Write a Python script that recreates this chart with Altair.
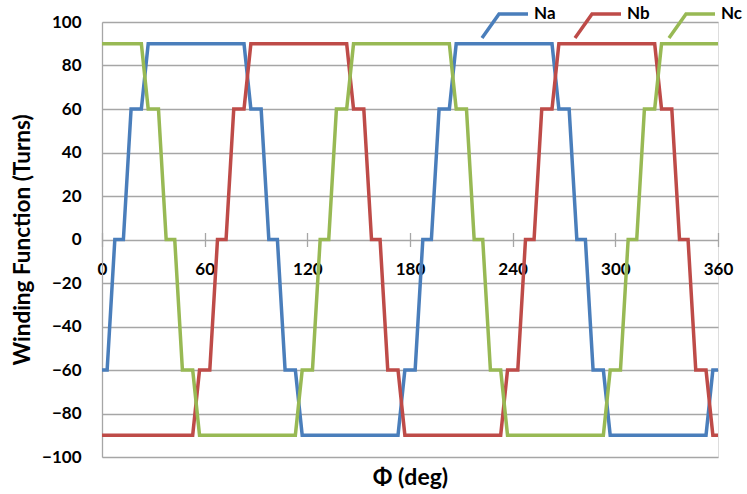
import altair as alt
import pandas as pd

# Angle breakpoints (deg) and winding function values (turns)
phi_a = [0, 3, 7.5, 12.5, 17, 23, 27, 83, 87, 93, 97.5, 102.5, 107, 113, 117, 173, 177,
         183, 187.5, 192.5, 197, 203, 207, 263, 267, 273, 277.5, 282.5, 287, 293, 297, 353, 357, 360]
na = [-60, -60, 0, 0, 60, 60, 90, 90, 60, 60, 0, 0, -60, -60, -90, -90, -60,
      -60, 0, 0, 60, 60, 90, 90, 60, 60, 0, 0, -60, -60, -90, -90, -60, -60]

phi_b = [0, 53, 57, 63, 67.5, 72.5, 77, 83, 87, 143, 147, 153, 157.5, 162.5, 167, 173, 177,
         233, 237, 243, 247.5, 252.5, 257, 263, 267, 323, 327, 333, 337.5, 342.5, 347, 353, 357, 360]
nb = [-90, -90, -60, -60, 0, 0, 60, 60, 90, 90, 60, 60, 0, 0, -60, -60, -90,
      -90, -60, -60, 0, 0, 60, 60, 90, 90, 60, 60, 0, 0, -60, -60, -90, -90]

phi_c = [0, 23, 27, 33, 37.5, 42.5, 47, 53, 57, 113, 117, 123, 127.5, 132.5, 137, 143, 147,
         203, 207, 213, 217.5, 222.5, 227, 233, 237, 293, 297, 303, 307.5, 312.5, 317, 323, 327, 360]
nc = [90, 90, 60, 60, 0, 0, -60, -60, -90, -90, -60, -60, 0, 0, 60, 60, 90,
      90, 60, 60, 0, 0, -60, -60, -90, -90, -60, -60, 0, 0, 60, 60, 90, 90]

series_names = ["Na", "Nb", "Nc"]
series_colors = ["#4A7EBB", "#BE4B48", "#98B954"]
x_ticks = [0, 60, 120, 180, 240, 300, 360]
y_ticks = [-100, -80, -60, -40, -20, 0, 20, 40, 60, 80, 100]

rows = []
for name, xs, ys in zip(series_names, [phi_a, phi_b, phi_c], [na, nb, nc]):
    for i, (x, y) in enumerate(zip(xs, ys)):
        rows.append({"phi": x, "N": y, "series": name, "idx": i})
df = pd.DataFrame(rows)

FONT = "Lato"
GRID = "#A6A6A6"

chart = alt.Chart(df).mark_line(strokeWidth=3.5).encode(
    x=alt.X("phi:Q",
            scale=alt.Scale(domain=[0, 360], nice=False),
            axis=alt.Axis(values=x_ticks, title="Φ (deg)", grid=False, domain=False,
                          offset=-224.5, tickSize=14, tickColor=GRID, tickWidth=1.3,
                          labelPadding=14.5, labelFlush=False, labelFont=FONT,
                          labelFontSize=17, labelFontWeight="bold", labelColor="black",
                          titleFont=FONT, titleFontSize=23, titleFontWeight="bold",
                          titleColor="black", titleY=245, titleBaseline="middle")),
    y=alt.Y("N:Q",
            scale=alt.Scale(domain=[-100, 100], nice=False),
            axis=alt.Axis(values=y_ticks, title="Winding Function (Turns)", grid=True,
                          gridColor=GRID, gridWidth=1.3, domain=True, domainColor=GRID,
                          domainWidth=1.3, ticks=False, labelPadding=21, labelFlush=False,
                          labelFont=FONT, labelFontSize=17, labelFontWeight="bold",
                          labelColor="black", titleFont=FONT, titleFontSize=22.5,
                          titleFontWeight="bold", titleColor="black", titlePadding=7)),
    color=alt.Color("series:N",
                    scale=alt.Scale(domain=series_names, range=series_colors),
                    legend=alt.Legend(title=None, orient="none", legendX=378, legendY=-33,
                                      direction="horizontal",
                                      symbolType="M-1,1.04L-0.26,0L1,0",
                                      symbolSize=2116, symbolStrokeWidth=3.5,
                                      symbolFillColor="transparent",
                                      labelFont=FONT, labelFontSize=17,
                                      labelFontWeight="bold", labelColor="black",
                                      labelOffset=4, columnPadding=12)),
    order="idx:Q",
).properties(
    width=616,
    height=435,
    autosize=alt.AutoSizeParams(type="none"),
    padding={"left": 102, "top": 22, "right": 29, "bottom": 37},
).configure_view(stroke="transparent").configure(background="white")

chart.save("out.html", embed_options={"renderer": "svg", "actions": False})
